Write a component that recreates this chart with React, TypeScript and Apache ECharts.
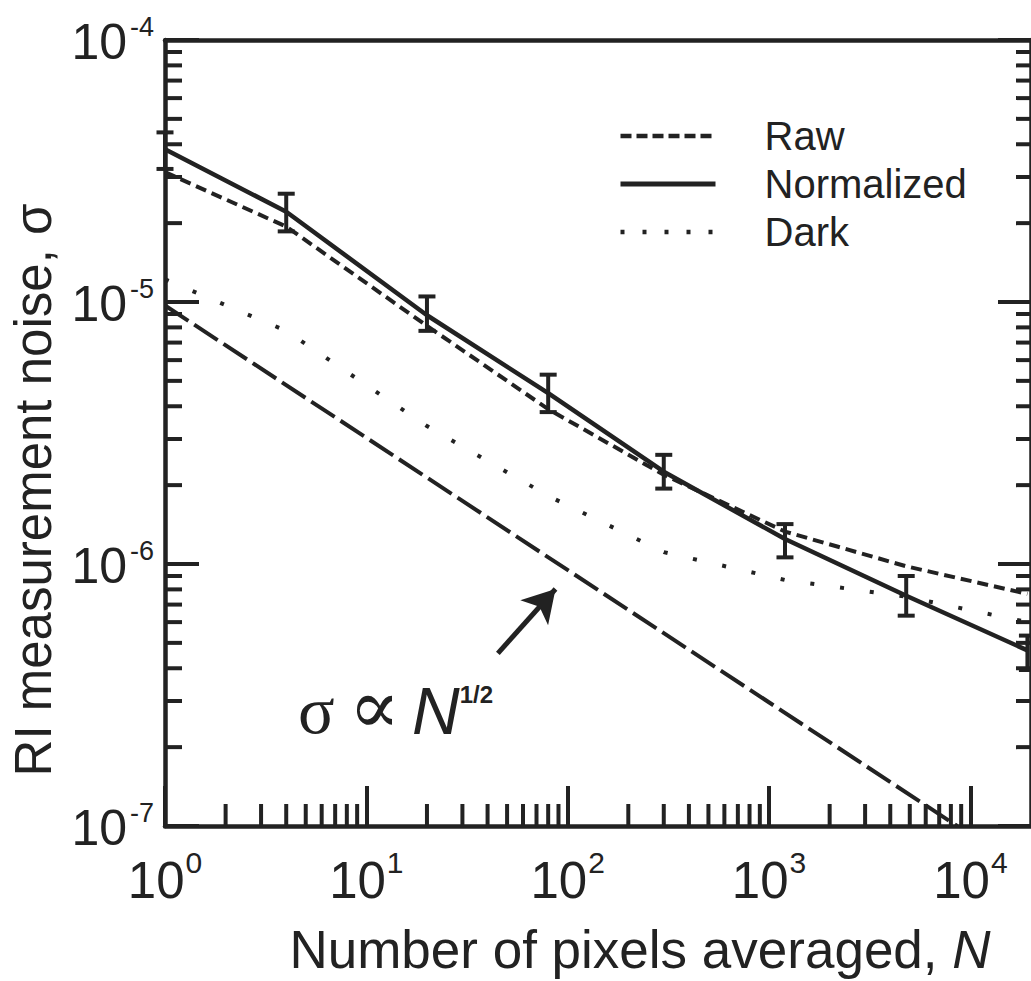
import React, { useEffect, useRef } from "react";
import * as echarts from "echarts";

// ---- data ----
const pixelsN = [1, 4, 20, 80, 300, 1200, 4800, 19200];
const rawSigma = [3.13e-5, 1.94e-5, 8.11e-6, 3.9e-6, 2.19e-6, 1.33e-6, 9.8e-7, 7.69e-7];
const normSigma = [3.83e-5, 2.21e-5, 8.9e-6, 4.49e-6, 2.25e-6, 1.245e-6, 7.57e-7, 4.68e-7];
const normLow = [3.22e-5, 1.86e-5, 7.76e-6, 3.8e-6, 1.94e-6, 1.06e-6, 6.35e-7, 3.94e-7];
const normHigh = [4.44e-5, 2.59e-5, 1.05e-5, 5.28e-6, 2.61e-6, 1.42e-6, 9.0e-7, 5.33e-7];
const darkSigma = [1.22e-5, 7.76e-6, 3.36e-6, 1.82e-6, 1.11e-6, 8.69e-7, 7.5e-7, 6.0e-7];
const slopeN = [1, 8600];
const slopeSigma = [9.7e-6, 1.0e-7];
const arrowN = [45, 87];
const arrowSigma = [4.56e-7, 8.03e-7];

const seriesNames = ["Raw", "Normalized", "Dark"];
const xMin = 1;
const xMax = 20000;
const yMin = 1e-7;
const yMax = 1e-4;
const xMinorTicks = [
  2, 3, 4, 5, 6, 7, 8, 9,
  20, 30, 40, 50, 60, 70, 80, 90,
  200, 300, 400, 500, 600, 700, 800, 900,
  2000, 3000, 4000, 5000, 6000, 7000, 8000, 9000,
];
const yMinorTicks = [
  2e-7, 3e-7, 4e-7, 5e-7, 6e-7, 7e-7, 8e-7, 9e-7,
  2e-6, 3e-6, 4e-6, 5e-6, 6e-6, 7e-6, 8e-6, 9e-6,
  2e-5, 3e-5, 4e-5, 5e-5, 6e-5, 7e-5, 8e-5, 9e-5,
];

const FONT = '"Liberation Sans", Arial, Helvetica, sans-serif';
const SERIF = '"Liberation Serif", "DejaVu Serif", serif';
const INK = "#222222";

const RAW_DASH = [11, 6];
const DARK_DOT = [4, 26];
const SLOPE_DASH = [28, 7];

const expOf = (v: number) => Math.round(Math.log10(v));

export default function App() {
  const ref = useRef<HTMLDivElement>(null);

  useEffect(() => {
    document.body.style.margin = "0";
    const chart = echarts.init(ref.current!, null, { renderer: "svg" });

    const pairs = (ys: number[]) => pixelsN.map((n, i) => [n, ys[i]]);

    const option: any = {
      animation: false,
      backgroundColor: "#ffffff",
      grid: { left: 165, top: 40, width: 866, height: 792, containLabel: false },
      legend: {
        data: [
          { name: seriesNames[0], lineStyle: { width: 4.5, type: [11, 5], color: INK } },
          { name: seriesNames[1], lineStyle: { width: 5, type: "solid", color: INK } },
          { name: seriesNames[2], lineStyle: { width: 4.5, type: [4, 18], color: INK } },
        ],
        orient: "vertical",
        left: 613,
        top: 111,
        itemWidth: 95,
        itemHeight: 2,
        itemGap: 8,
        itemStyle: { opacity: 0 },
        textStyle: {
          fontFamily: FONT,
          fontSize: 40,
          lineHeight: 40,
          color: INK,
          padding: [0, 0, 0, 44],
        },
        selectedMode: false,
      },
      xAxis: [
        {
          type: "log",
          logBase: 10,
          min: xMin,
          max: xMax,
          position: "bottom",
          axisLine: { onZero: false, lineStyle: { color: INK, width: 4.5 } },
          axisTick: { inside: true, length: 40, lineStyle: { color: INK, width: 4 } },
          splitLine: { show: false },
          axisLabel: {
            margin: 21,
            showMaxLabel: false,
            formatter: (v: number) => `{b|10}{s|${expOf(v)}}`,
            rich: {
              b: { fontFamily: FONT, fontSize: 51, color: INK, lineHeight: 59, verticalAlign: "bottom" },
              s: { fontFamily: FONT, fontSize: 30, color: INK, lineHeight: 30, verticalAlign: "top", padding: [0, 0, 0, 1] },
            },
          },
          name: "{a|Number of pixels averaged, }{i|N}",
          nameLocation: "middle",
          nameGap: 97,
          nameTextStyle: {
            padding: [0, 0, 0, 84],
            rich: {
              a: { fontFamily: FONT, fontSize: 53, color: INK },
              i: { fontFamily: FONT, fontSize: 53, color: INK, fontStyle: "italic" },
            },
          },
        },
        {
          type: "log",
          logBase: 10,
          min: xMin,
          max: xMax,
          position: "top",
          axisLine: { onZero: false, lineStyle: { color: INK, width: 4.5 } },
          axisTick: { show: false },
          axisLabel: { show: false },
          splitLine: { show: false },
        },
      ],
      yAxis: [
        {
          type: "log",
          logBase: 10,
          min: yMin,
          max: yMax,
          position: "left",
          axisLine: { onZero: false, lineStyle: { color: INK, width: 4.5 } },
          axisTick: { inside: true, length: 34, lineStyle: { color: INK, width: 4 } },
          splitLine: { show: false },
          axisLabel: {
            margin: 11,
            formatter: (v: number) => `{b|10}{s|${expOf(v)}}`,
            rich: {
              b: { fontFamily: FONT, fontSize: 50, color: INK, lineHeight: 53, verticalAlign: "bottom" },
              s: { fontFamily: FONT, fontSize: 27, color: INK, lineHeight: 24, verticalAlign: "top", padding: [0, 0, 0, 3] },
            },
          },
          name: "RI measurement noise, σ",
          nameLocation: "middle",
          nameRotate: 90,
          nameGap: 106,
          nameTextStyle: {
            fontFamily: FONT,
            fontSize: 51,
            color: INK,
            padding: [0, 114, 0, 0],
          },
        },
        {
          type: "log",
          logBase: 10,
          min: yMin,
          max: yMax,
          position: "right",
          axisLine: { onZero: false, lineStyle: { color: INK, width: 4.5 } },
          axisTick: { inside: true, length: 33, lineStyle: { color: INK, width: 4 } },
          axisLabel: { show: false },
          splitLine: { show: false },
        },
      ],
      graphic: [
        {
          type: "text",
          x: 298,
          y: 678,
          z: 100,
          style: {
            text: "{s|σ}{q|∝}{n|N}{p|1/2}",
            rich: {
              s: { fontFamily: SERIF, fontSize: 68, fill: INK, lineHeight: 66, verticalAlign: "bottom", padding: [0, 14, 0, 0] },
              q: { fontFamily: '"DejaVu Serif", serif', fontSize: 76, fill: INK, lineHeight: 66, verticalAlign: "bottom", padding: [0, 12, 0, 0] },
              n: { fontFamily: FONT, fontSize: 66, fontStyle: "italic", fill: INK, lineHeight: 66, verticalAlign: "bottom" },
              p: { fontFamily: FONT, fontSize: 24, fontWeight: "bold", fill: INK, lineHeight: 24, verticalAlign: "top", padding: [4, 0, 0, 0] },
            },
          },
        },
      ],
      series: [
        {
          name: "Raw",
          type: "line",
          data: pairs(rawSigma),
          symbol: "none",
          lineStyle: { color: INK, width: 4, type: RAW_DASH },
          itemStyle: { color: INK },
          z: 3,
        },
        {
          name: "Normalized",
          type: "line",
          data: pairs(normSigma),
          symbol: "none",
          lineStyle: { color: INK, width: 4.5, type: "solid" },
          itemStyle: { color: INK },
          z: 4,
        },
        {
          name: "Dark",
          type: "line",
          data: pairs(darkSigma),
          symbol: "none",
          lineStyle: { color: INK, width: 4, type: DARK_DOT },
          itemStyle: { color: INK },
          z: 3,
        },
        {
          name: "slope",
          type: "line",
          data: slopeN.map((n, i) => [n, slopeSigma[i]]),
          symbol: "none",
          lineStyle: { color: INK, width: 4, type: SLOPE_DASH },
          itemStyle: { color: INK },
          z: 3,
          markLine: {
            silent: true,
            symbol: ["none", "arrow"],
            symbolSize: [28, 32],
            label: { show: false },
            lineStyle: { color: INK, width: 5, type: "solid" },
            data: [
              [
                { coord: [arrowN[0], arrowSigma[0]] },
                { coord: [arrowN[1], arrowSigma[1]] },
              ],
            ],
          },
        },
        {
          name: "errors",
          type: "custom",
          data: pixelsN.map((n, i) => [n, normLow[i], normHigh[i]]),
          encode: { x: 0, y: [1, 2] },
          clip: false,
          z: 5,
          renderItem: (params: any, api: any) => {
            const lo = api.coord([api.value(0), api.value(1)]);
            const hi = api.coord([api.value(0), api.value(2)]);
            const hw = 8.5;
            const st = { stroke: INK, lineWidth: 4 };
            return {
              type: "group",
              children: [
                { type: "line", shape: { x1: lo[0], y1: lo[1], x2: hi[0], y2: hi[1] }, style: st },
                { type: "line", shape: { x1: lo[0] - hw, y1: lo[1], x2: lo[0] + hw, y2: lo[1] }, style: st },
                { type: "line", shape: { x1: hi[0] - hw, y1: hi[1], x2: hi[0] + hw, y2: hi[1] }, style: st },
              ],
            };
          },
        },
        {
          name: "xMinor",
          type: "custom",
          data: xMinorTicks.map((v) => [v, yMin]),
          clip: false,
          z: 6,
          silent: true,
          renderItem: (params: any, api: any) => {
            const p = api.coord([api.value(0), api.value(1)]);
            return {
              type: "line",
              shape: { x1: p[0], y1: p[1], x2: p[0], y2: p[1] - 22 },
              style: { stroke: INK, lineWidth: 4 },
            };
          },
        },
        {
          name: "yMinor",
          type: "custom",
          data: yMinorTicks.map((v) => [xMin, v]),
          clip: false,
          z: 6,
          silent: true,
          renderItem: (params: any, api: any) => {
            const p = api.coord([api.value(0), api.value(1)]);
            const right = params.coordSys.x + params.coordSys.width;
            return {
              type: "group",
              children: [
                { type: "line", shape: { x1: p[0], y1: p[1], x2: p[0] + 17, y2: p[1] }, style: { stroke: INK, lineWidth: 4 } },
                { type: "line", shape: { x1: right, y1: p[1], x2: right - 15, y2: p[1] }, style: { stroke: INK, lineWidth: 4 } },
              ],
            };
          },
        },
      ],
    };

    chart.setOption(option);
    return () => chart.dispose();
  }, []);

  return <div ref={ref} style={{ width: 1031, height: 981 }} />;
}
